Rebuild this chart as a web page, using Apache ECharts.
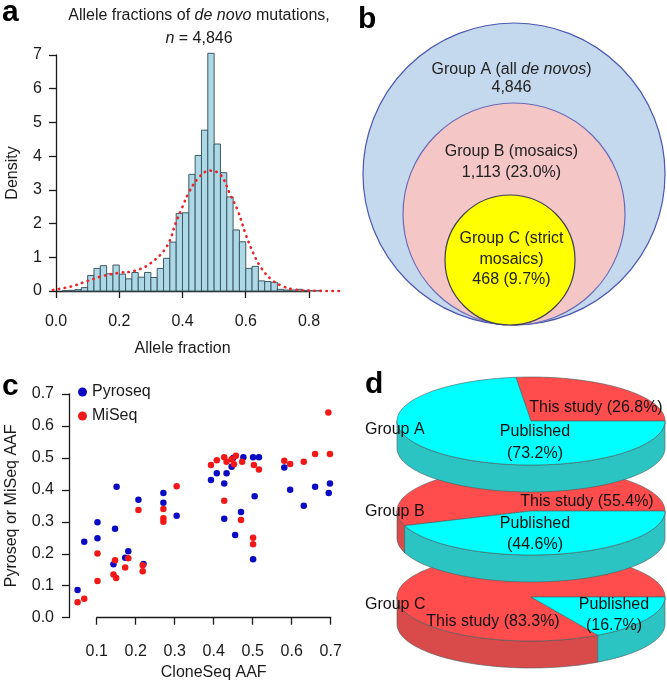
<!DOCTYPE html>
<html>
<head>
<meta charset="utf-8"/>
<title>De novo mosaic mutations</title>
<script src="https://cdn.jsdelivr.net/npm/echarts@6/dist/echarts.min.js"></script>
<style>
  html, body { margin: 0; padding: 0; background: #fff; }
  #main { width: 667px; height: 685px; }
</style>
</head>
<body>
<div id="main"></div>
<script type="text/javascript">
  // ---- panel a: histogram of allele fractions ----
  var binLeft = [0.02, 0.04, 0.06, 0.08, 0.10, 0.12, 0.14, 0.16, 0.18, 0.20,
                 0.22, 0.24, 0.26, 0.28, 0.30, 0.32, 0.34, 0.36, 0.38, 0.40,
                 0.42, 0.44, 0.46, 0.48, 0.50, 0.52, 0.54, 0.56, 0.58, 0.60,
                 0.62, 0.64, 0.66, 0.68, 0.70, 0.72, 0.74, 0.76, 0.78, 0.80, 0.82];
  var density = [0.01, 0.02, 0.04, 0.10, 0.46, 0.67, 0.75, 0.51, 0.77, 0.50,
                 0.36, 0.55, 0.41, 0.55, 0.40, 0.67, 0.97, 1.45, 2.30, 2.32,
                 3.46, 4.02, 4.77, 7.05, 4.36, 3.51, 2.79, 1.81, 1.46, 0.67,
                 0.73, 0.30, 0.28, 0.26, 0.05, 0.03, 0.03, 0.05, 0.02, 0.01, 0.01];
  var binWidth = 0.02;
  // fitted density curve (red dotted)
  var curveX = [-0.01, 0.05, 0.10, 0.15, 0.20, 0.25, 0.30, 0.35, 0.38, 0.40, 0.42,
                0.45, 0.485, 0.52, 0.55, 0.575, 0.60, 0.625, 0.65, 0.68, 0.71, 0.75, 0.80, 0.90];
  var curveY = [0.03, 0.14, 0.30, 0.45, 0.54, 0.60, 0.83, 1.32, 2.05, 2.50, 2.92,
                3.35, 3.57, 3.45, 2.88, 2.38, 1.68, 1.10, 0.67, 0.35, 0.17, 0.05, 0.01, 0.0];

  // ---- panel c: validation scatter ----
  var pyroX = [0.051, 0.068, 0.102, 0.102, 0.151, 0.147, 0.143, 0.181, 0.173, 0.207, 0.220,
               0.271, 0.271, 0.305, 0.393, 0.408, 0.427, 0.433, 0.427, 0.446, 0.450, 0.476,
               0.501, 0.516, 0.470, 0.455, 0.505, 0.501, 0.581, 0.596, 0.631, 0.660, 0.695, 0.698];
  var pyroY = [0.087, 0.238, 0.299, 0.249, 0.410, 0.278, 0.167, 0.208, 0.188, 0.369, 0.168,
               0.390, 0.360, 0.319, 0.431, 0.452, 0.420, 0.452, 0.310, 0.472, 0.500, 0.502,
               0.502, 0.502, 0.331, 0.259, 0.380, 0.183, 0.470, 0.400, 0.350, 0.410, 0.390, 0.420];
  var miseqX = [0.051, 0.068, 0.102, 0.102, 0.147, 0.143, 0.150, 0.173, 0.181, 0.207, 0.218,
                0.218, 0.271, 0.271, 0.271, 0.305, 0.393, 0.408, 0.427, 0.433, 0.446, 0.457,
                0.452, 0.473, 0.427, 0.470, 0.501, 0.501, 0.503, 0.516, 0.581, 0.596, 0.631,
                0.660, 0.694, 0.698];
  var miseqY = [0.048, 0.059, 0.201, 0.115, 0.180, 0.135, 0.124, 0.157, 0.186, 0.337, 0.164,
                0.145, 0.340, 0.311, 0.300, 0.411, 0.478, 0.493, 0.502, 0.488, 0.496, 0.507,
                0.480, 0.488, 0.366, 0.306, 0.250, 0.230, 0.478, 0.464, 0.491, 0.481, 0.488,
                0.512, 0.642, 0.512];

  // ---- panels b and d: groups ----
  var groupNames = ['Group A', 'Group B', 'Group C'];
  var groupNotes = ['all de novos', 'mosaics', 'strict mosaics'];
  var groupCounts = [4846, 1113, 468];
  var groupPct = [100, 23.0, 9.7];
  var thisStudyPct = [26.8, 55.4, 83.3];
  var publishedPct = [73.2, 44.6, 16.7];

  // layout only (pixels inside each panel grid)
  var FONT = 'Liberation Sans, Arial, Helvetica, sans-serif';
  var INK = '#1a1a1a';
  var circleBottom = 325;
  var circleLayout = [
    { cx: 174, r: 151, fill: '#c5d9ee', stroke: '#4b58b0', ty: 79, lh: 18 },
    { cx: 174, r: 111, fill: '#f4c6c6', stroke: '#6b6cb8', ty: 162.5, lh: 21 },
    { cx: 170, r: 65, fill: '#ffff00', stroke: '#3f3f55', ty: 259.5, lh: 20.5 }
  ];
  var pieRy = 44, pieDepth = 27;
  var pieCy = [81, 171, 257];
  var pieLabelPos = [
    { study: [65, -13], pub: [4, 21.5], group: [-166, 9] },
    { study: [56, -9], pub: [4, 23], group: [-166, 1] },
    { study: [-38, 25], pub: [83, 18], group: [-166, 8] }
  ];

  var myChart = echarts.init(document.getElementById('main'));

  function fmt(n) { return n.toLocaleString('en-US'); }

  var bars = binLeft.map(function (x, k) { return [x, x + binWidth, density[k]]; });
  var curve = curveX.map(function (x, k) { return [x, curveY[k]]; });
  var pyro = pyroX.map(function (x, k) { return [x, pyroY[k]]; });
  var miseq = miseqX.map(function (x, k) { return [x, miseqY[k]]; });

  var axisLineStyle = { color: INK, width: 1.3 };

  function circleText(i) {
    if (i === 0) {
      return '{n|' + groupNames[0] + ' (all }{i|de novos}{n|)}\n{n|' + fmt(groupCounts[0]) + '}';
    }
    if (i === 1) {
      return '{n|' + groupNames[1] + ' (' + groupNotes[1] + ')}\n{n|' + fmt(groupCounts[1]) +
        ' (' + groupPct[1].toFixed(1) + '%)}';
    }
    return '{n|' + groupNames[2] + ' (strict}\n{n|mosaics)}\n{n|' + fmt(groupCounts[2]) +
      ' (' + groupPct[2].toFixed(1) + '%)}';
  }

  function renderCircle(params, api) {
    var i = api.value(0);
    var L = circleLayout[i];
    var c = api.coord([L.cx, circleBottom - L.r]);
    var r = api.size([L.r, 0])[0];
    var t = api.coord([171.5, L.ty]);
    return {
      type: 'group',
      children: [
        { type: 'circle', shape: { cx: c[0], cy: c[1], r: r },
          style: { fill: L.fill, stroke: L.stroke, lineWidth: 1.2 } },
        { type: 'text', x: t[0], y: t[1],
          style: {
            text: circleText(i), fill: '#222', fontSize: 16, fontFamily: FONT,
            align: 'center', verticalAlign: 'middle', lineHeight: L.lh,
            rich: {
              n: { fontSize: 16, fontFamily: FONT, fill: '#222', lineHeight: L.lh },
              i: { fontSize: 16, fontFamily: FONT, fill: '#222', fontStyle: 'italic', lineHeight: L.lh }
            }
          } }
      ]
    };
  }

  function renderPie(params, api) {
    var i = api.value(0);
    var cy = pieCy[i];
    var red = thisStudyPct[i] / 100 * 360;
    var slices = [
      { a0: 0, a1: red, top: '#ff4d4d', side: '#d94a4a' },
      { a0: red, a1: 360, top: '#00ffff', side: '#2cc3c3' }
    ];
    function arc(a0, a1, dy) {
      var pts = [];
      var n = Math.max(2, Math.ceil((a1 - a0) / 2));
      for (var k = 0; k <= n; k++) {
        var t = (a0 + (a1 - a0) * k / n) * Math.PI / 180;
        pts.push(api.coord([Math.cos(t), cy - pieRy * Math.sin(t) + dy]));
      }
      return pts;
    }
    var children = [];
    slices.forEach(function (s) {
      var s0 = Math.max(s.a0, 180), s1 = Math.min(s.a1, 360);
      if (s1 > s0) {
        var pts = arc(s0, s1, 0).concat(arc(s0, s1, pieDepth).reverse());
        children.push({ type: 'polygon', shape: { points: pts },
          style: { fill: s.side, stroke: '#4a5a5a', lineWidth: 0.6 } });
      }
    });
    var ctr = api.coord([0, cy]);
    slices.forEach(function (s) {
      var pts = [ctr].concat(arc(s.a0, s.a1, 0));
      children.push({ type: 'polygon', shape: { points: pts },
        style: { fill: s.top, stroke: '#4a5a5a', lineWidth: 0.6 } });
    });
    var P = pieLabelPos[i];
    var txt = { fill: '#111', fontSize: 16, fontFamily: FONT, verticalAlign: 'middle' };
    children.push({ type: 'text', x: ctr[0] + P.study[0], y: ctr[1] + P.study[1],
      style: Object.assign({ text: 'This study (' + thisStudyPct[i].toFixed(1) + '%)', align: 'center' }, txt) });
    children.push({ type: 'text', x: ctr[0] + P.pub[0], y: ctr[1] + P.pub[1],
      style: Object.assign({ text: 'Published\n(' + publishedPct[i].toFixed(1) + '%)', align: 'center',
        lineHeight: 21.5 }, txt) });
    children.push({ type: 'text', x: ctr[0] + P.group[0], y: ctr[1] + P.group[1],
      style: Object.assign({ text: groupNames[i], align: 'left' }, txt) });
    return { type: 'group', children: children };
  }

  var letter = function (t, x, y) {
    return { text: t, left: x, top: y, padding: 0,
      textStyle: { fontSize: 30, fontWeight: 'bold', color: '#000', fontFamily: FONT } };
  };

  var option = {
    animation: false,
    textStyle: { fontFamily: FONT },
    title: [
      {
        text: '{n|Allele fractions of }{i|de novo}{n| mutations,}\n{i|n}{n| = 4,846}',
        left: 199, top: 4.5, textAlign: 'center', padding: 0,
        textStyle: {
          fontWeight: 'normal', lineHeight: 23,
          rich: {
            n: { fontSize: 16, color: INK, fontFamily: FONT, fontWeight: 'normal', lineHeight: 23 },
            i: { fontSize: 16, color: INK, fontFamily: FONT, fontWeight: 'normal', fontStyle: 'italic', lineHeight: 23 }
          }
        }
      },
      letter('a', 2, -2),
      letter('b', 358, 5),
      letter('c', 2, 372),
      letter('d', 365, 370)
    ],
    legend: {
      data: ['Pyroseq', 'MiSeq'],
      orient: 'vertical', left: 73, top: 379,
      icon: 'circle', itemWidth: 9, itemHeight: 9, itemGap: 8,
      textStyle: { fontSize: 16, color: INK, fontFamily: FONT }
    },
    grid: [
      { left: 51.6, top: 55, width: 289, height: 236 },      // a data
      { left: 56, top: 55, width: 253, height: 236 },        // a axes
      { left: 69.4, top: 384.4, width: 269.1, height: 246.1 }, // c data
      { left: 96.7, top: 394, width: 234, height: 223.7 },   // c axes
      { left: 340, top: 0, width: 327, height: 340 },        // b
      { left: 397, top: 340, width: 268, height: 345 }       // d
    ],
    xAxis: [
      { gridIndex: 0, type: 'value', min: -0.014, max: 0.9, show: false },
      { gridIndex: 1, type: 'value', min: 0, max: 0.8, interval: 0.2, offset: 11,
        axisLine: { show: true, lineStyle: axisLineStyle },
        axisTick: { show: true, length: 7, lineStyle: axisLineStyle },
        axisLabel: { fontSize: 16, color: INK, margin: 12, formatter: function (v) { return v.toFixed(1); } },
        splitLine: { show: false },
        name: 'Allele fraction', nameLocation: 'middle', nameGap: 39,
        nameTextStyle: { fontSize: 16, color: INK } },
      { gridIndex: 2, type: 'value', min: 0.03, max: 0.72, show: false },
      { gridIndex: 3, type: 'value', min: 0.1, max: 0.7, interval: 0.1, offset: 13.3,
        axisLine: { show: true, lineStyle: axisLineStyle },
        axisTick: { show: true, length: 7, lineStyle: axisLineStyle },
        axisLabel: { fontSize: 16, color: INK, margin: 13, formatter: function (v) { return v.toFixed(1); } },
        splitLine: { show: false },
        name: 'CloneSeq AAF', nameLocation: 'middle', nameGap: 34,
        nameTextStyle: { fontSize: 16, color: INK } },
      { gridIndex: 4, type: 'value', min: 0, max: 327, show: false },
      { gridIndex: 5, type: 'value', min: -1, max: 1, show: false }
    ],
    yAxis: [
      { gridIndex: 0, type: 'value', min: 0, max: 7, show: false },
      { gridIndex: 1, type: 'value', min: 0, max: 7, interval: 1, offset: 4,
        axisLine: { show: true, lineStyle: axisLineStyle },
        axisTick: { show: true, length: 7, lineStyle: axisLineStyle },
        axisLabel: { fontSize: 16, color: INK, margin: 10 },
        splitLine: { show: false },
        name: 'Density', nameLocation: 'middle', nameGap: 31, nameRotate: 90,
        nameTextStyle: { fontSize: 16, color: INK } },
      { gridIndex: 2, type: 'value', min: -0.04, max: 0.73, show: false },
      { gridIndex: 3, type: 'value', min: 0, max: 0.7, interval: 0.1, offset: 27.7,
        axisLine: { show: true, lineStyle: axisLineStyle },
        axisTick: { show: true, length: 7, lineStyle: axisLineStyle },
        axisLabel: { fontSize: 16, color: INK, margin: 15, formatter: function (v) { return v.toFixed(1); } },
        splitLine: { show: false },
        name: 'Pyroseq or MiSeq AAF', nameLocation: 'middle', nameGap: 49, nameRotate: 90,
        nameTextStyle: { fontSize: 16, color: INK } },
      { gridIndex: 4, type: 'value', min: 0, max: 340, inverse: true, show: false },
      { gridIndex: 5, type: 'value', min: 0, max: 345, inverse: true, show: false }
    ],
    series: [
      {
        name: 'hist', type: 'custom', xAxisIndex: 0, yAxisIndex: 0,
        data: bars, encode: { x: [0, 1], y: 2 },
        renderItem: function (params, api) {
          var p0 = api.coord([api.value(0), api.value(2)]);
          var p1 = api.coord([api.value(1), 0]);
          return { type: 'rect',
            shape: { x: p0[0], y: p0[1], width: p1[0] - p0[0], height: p1[1] - p0[1] },
            style: { fill: '#add8e6', stroke: '#3f5963', lineWidth: 1 } };
        }
      },
      {
        name: 'fit', type: 'line', xAxisIndex: 0, yAxisIndex: 0,
        data: curve, smooth: 0.4, symbol: 'none', clip: false,
        lineStyle: { color: '#e8262c', width: 2.6, type: [0.5, 5.5], cap: 'round' }
      },
      {
        name: 'Pyroseq', type: 'scatter', xAxisIndex: 2, yAxisIndex: 2,
        data: pyro, symbolSize: 6.5, clip: false,
        itemStyle: { color: '#0b0bc4', opacity: 1 }
      },
      {
        name: 'MiSeq', type: 'scatter', xAxisIndex: 2, yAxisIndex: 2,
        data: miseq, symbolSize: 6.5, clip: false,
        itemStyle: { color: '#f21818', opacity: 1 }
      },
      {
        name: 'groups', type: 'custom', xAxisIndex: 4, yAxisIndex: 4,
        data: [[0], [1], [2]], renderItem: renderCircle, clip: false
      },
      {
        name: 'source', type: 'custom', xAxisIndex: 5, yAxisIndex: 5,
        data: [[2], [1], [0]], renderItem: renderPie, clip: false
      }
    ]
  };

  myChart.setOption(option);
</script>
</body>
</html>
